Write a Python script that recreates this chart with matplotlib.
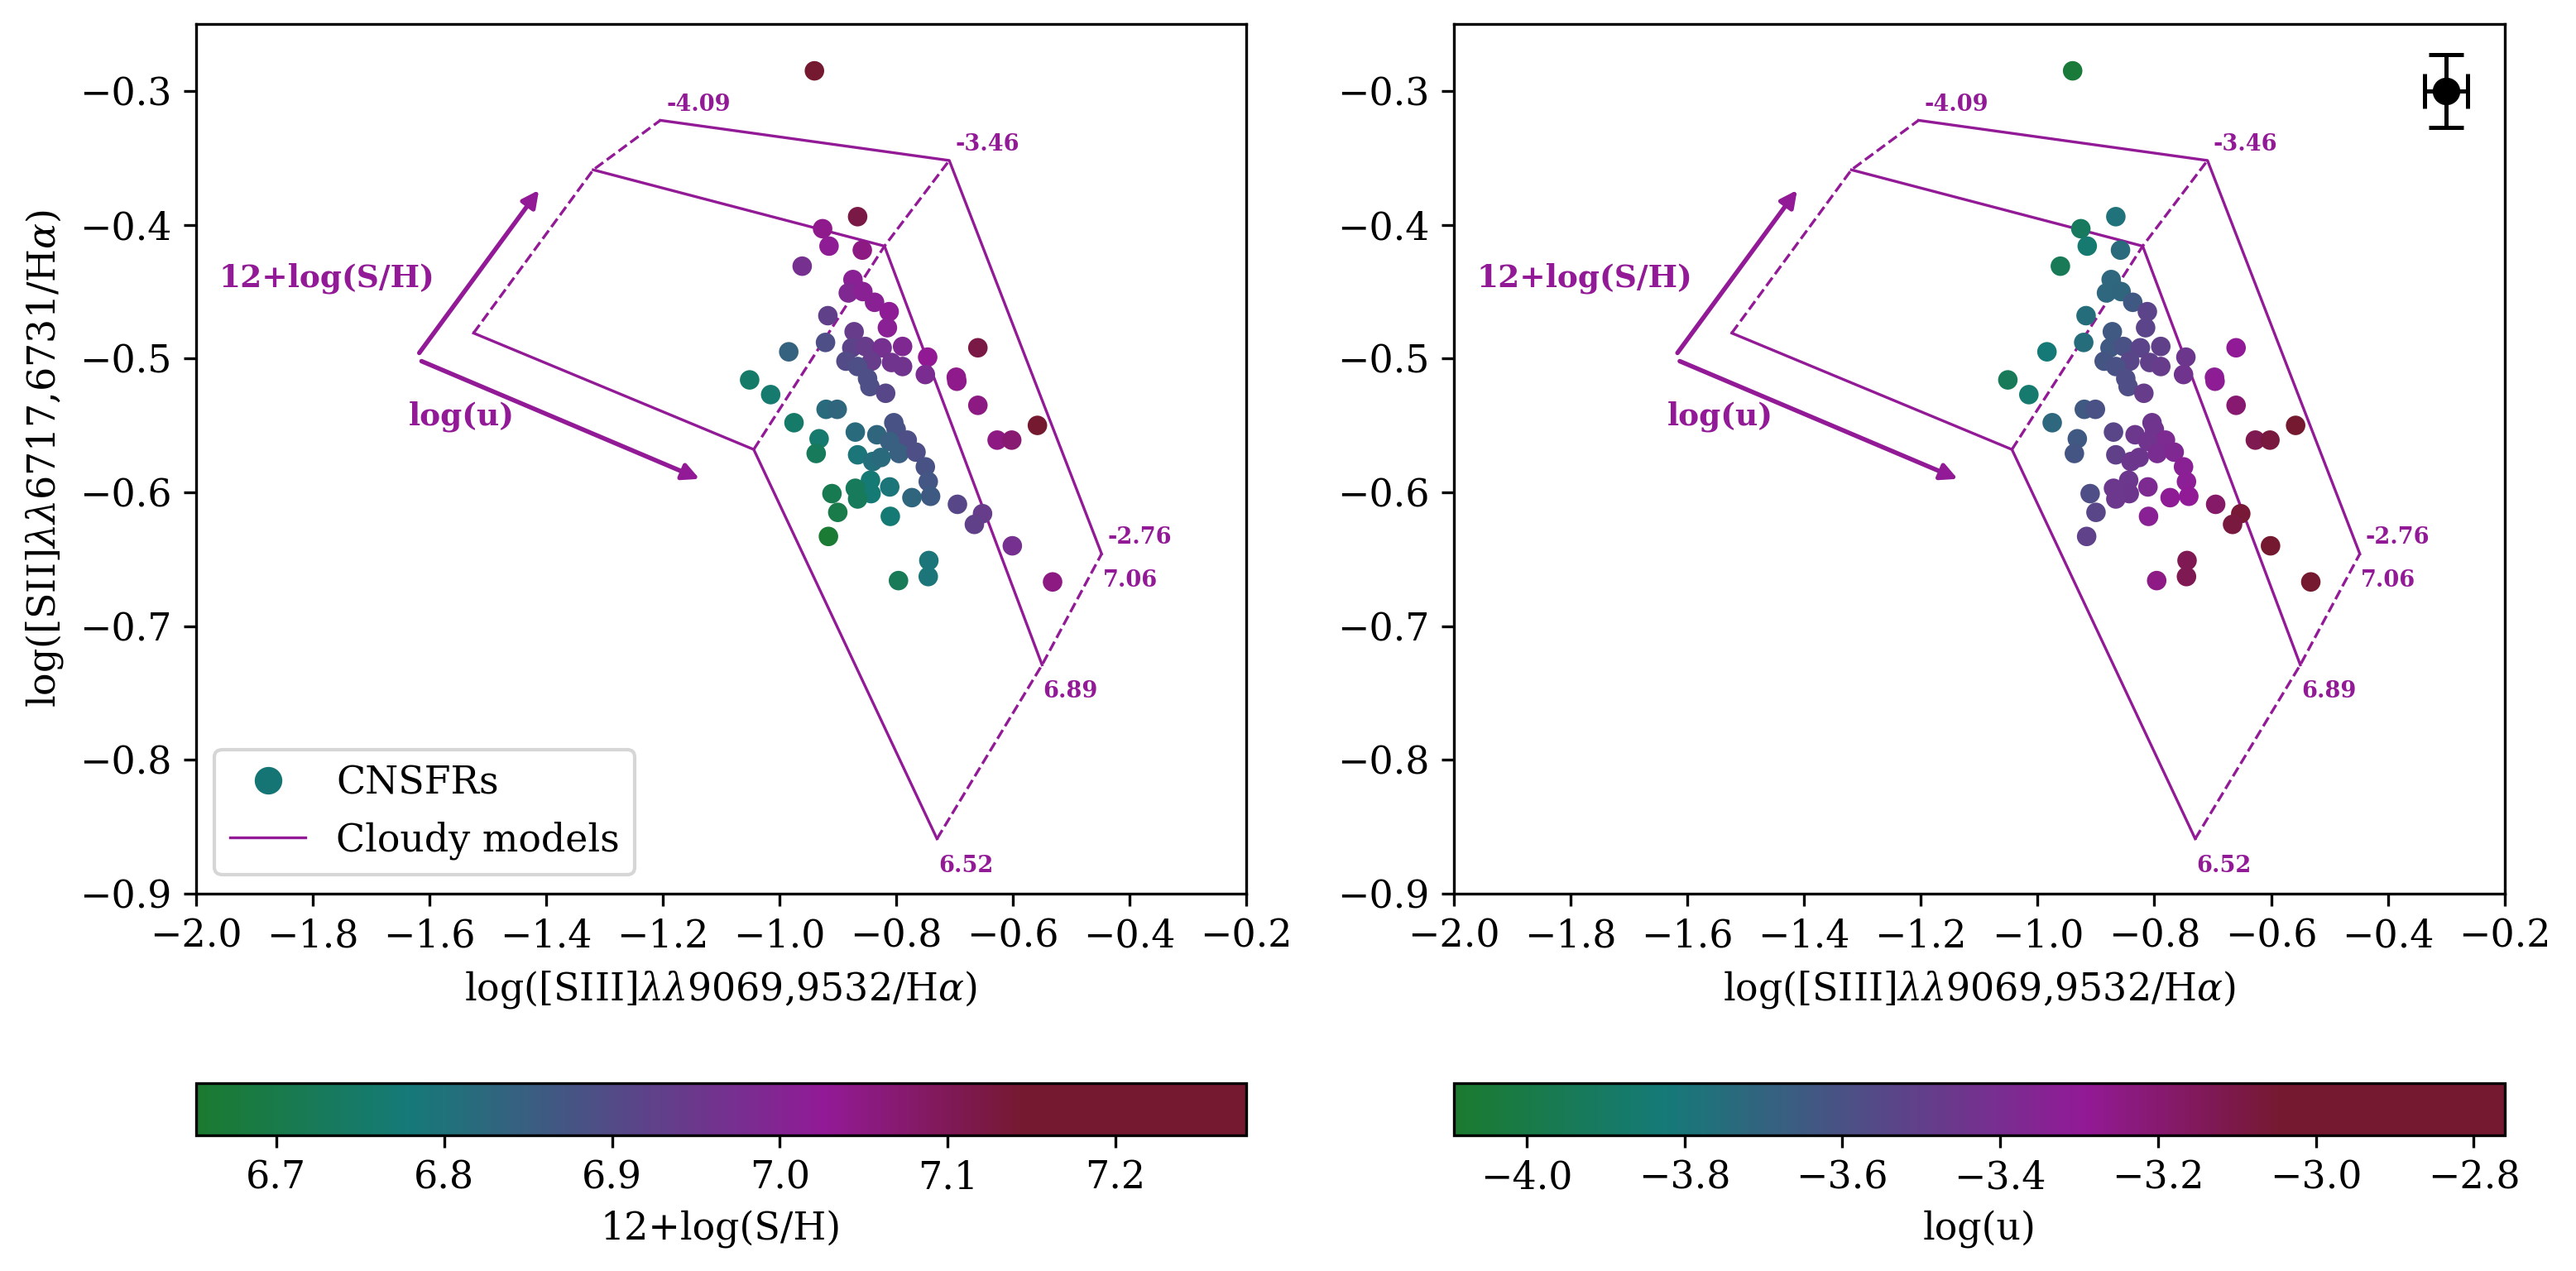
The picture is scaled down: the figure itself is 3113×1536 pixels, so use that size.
import matplotlib
matplotlib.use("Agg")
import matplotlib.pyplot as plt
from matplotlib.colors import LinearSegmentedColormap
from matplotlib.lines import Line2D

plt.rcParams['font.family'] = 'serif'
plt.rcParams['font.serif'] = ['DejaVu Serif']
plt.rcParams['mathtext.fontset'] = 'dejavuserif'

# CNSFR data
x_s3 = [-0.940, -0.866, -0.926, -0.915, -0.858, -0.961, -0.874, -0.882, -0.857, -0.837,
        -0.812, -0.815, -0.917, -0.872, -0.921, -0.984, -0.876, -0.853, -0.824, -0.789,
        -0.746, -0.660, -0.842, -0.886, -0.866, -0.808, -0.789, -0.750, -0.849, -0.845,
        -0.818, -0.697, -0.696, -0.660, -1.051, -1.015, -0.920, -0.901, -0.975, -0.932,
        -0.937, -0.870, -0.833, -0.804, -0.800, -0.781, -0.811, -0.795, -0.766, -0.866,
        -0.840, -0.826, -0.750, -0.745, -0.741, -0.773, -0.811, -0.844, -0.843, -0.870,
        -0.866, -0.910, -0.900, -0.916, -0.810, -0.695, -0.652, -0.666, -0.601, -0.532,
        -0.558, -0.627, -0.602, -0.744, -0.745, -0.796]
y_s2 = [-0.285, -0.394, -0.403, -0.416, -0.419, -0.431, -0.441, -0.451, -0.450, -0.458,
        -0.465, -0.477, -0.468, -0.480, -0.488, -0.495, -0.492, -0.491, -0.492, -0.491,
        -0.499, -0.492, -0.502, -0.502, -0.506, -0.503, -0.506, -0.512, -0.515, -0.521,
        -0.526, -0.514, -0.517, -0.535, -0.516, -0.527, -0.538, -0.538, -0.548, -0.560,
        -0.571, -0.555, -0.557, -0.548, -0.553, -0.561, -0.562, -0.571, -0.570, -0.572,
        -0.577, -0.574, -0.581, -0.592, -0.603, -0.604, -0.596, -0.591, -0.601, -0.597,
        -0.605, -0.601, -0.615, -0.633, -0.618, -0.609, -0.616, -0.624, -0.640, -0.667,
        -0.550, -0.561, -0.561, -0.651, -0.663, -0.666]
sh = [7.26, 7.12, 7.04, 7.02, 7.05, 6.97, 7.01, 6.99, 7.01, 7.01,
      7.02, 7.01, 6.93, 6.94, 6.89, 6.84, 6.92, 6.94, 6.97, 6.99,
      7.03, 7.12, 6.94, 6.90, 6.89, 6.96, 6.96, 6.98, 6.89, 6.89,
      6.91, 7.04, 7.04, 7.05, 6.75, 6.76, 6.82, 6.83, 6.75, 6.76,
      6.73, 6.82, 6.83, 6.88, 6.88, 6.89, 6.85, 6.85, 6.89, 6.79,
      6.81, 6.82, 6.88, 6.87, 6.86, 6.83, 6.79, 6.77, 6.77, 6.73,
      6.73, 6.71, 6.70, 6.66, 6.77, 6.91, 6.94, 6.93, 6.97, 7.05,
      7.18, 7.05, 7.07, 6.79, 6.79, 6.72]
logu = [-4.05, -3.78, -3.92, -3.85, -3.74, -3.95, -3.72, -3.72, -3.71, -3.64,
        -3.53, -3.53, -3.75, -3.64, -3.75, -3.83, -3.64, -3.60, -3.53, -3.50,
        -3.45, -3.30, -3.54, -3.62, -3.60, -3.50, -3.48, -3.44, -3.58, -3.58,
        -3.48, -3.32, -3.31, -3.20, -3.94, -3.86, -3.64, -3.60, -3.72, -3.64,
        -3.62, -3.54, -3.46, -3.45, -3.44, -3.38, -3.44, -3.40, -3.37, -3.50,
        -3.46, -3.45, -3.33, -3.32, -3.30, -3.31, -3.38, -3.46, -3.45, -3.46,
        -3.46, -3.58, -3.54, -3.51, -3.33, -3.18, -3.06, -3.08, -2.95, -2.85,
        -2.90, -3.12, -3.08, -3.13, -3.13, -3.25]

# Cloudy model grid: rows = 12+log(S/H), columns = log(u)
grid_sh = ['6.52', '6.89', '7.06']
grid_u = ['-4.09', '-3.46', '-2.76']
grid_x = [[-1.524, -1.044, -0.730],
          [-1.319, -0.820, -0.550],
          [-1.204, -0.709, -0.448]]
grid_y = [[-0.481, -0.568, -0.859],
          [-0.359, -0.416, -0.729],
          [-0.322, -0.352, -0.646]]

purple = '#921a96'
cmap = LinearSegmentedColormap.from_list(
    'gpm', [(0.0, '#1b7a2f'), (0.2, '#157a78'), (0.6, '#921a96'),
            (0.79, '#751930'), (1.0, '#751930')])

W, H = 3113, 1536
fig = plt.figure(figsize=(W / 300, H / 300), dpi=300)
ax1 = fig.add_axes([236.5 / W, 456 / H, 1269.7 / W, 1051 / H])
ax2 = fig.add_axes([1757 / W, 456 / H, 1269.7 / W, 1051 / H])
cax1 = fig.add_axes([236.5 / W, 164 / H, 1269.7 / W, 63 / H])
cax2 = fig.add_axes([1757 / W, 164 / H, 1269.7 / W, 63 / H])


def draw_models(ax):
    for i in range(3):
        ax.plot(grid_x[i], grid_y[i], color=purple, lw=0.8)
    for j in range(3):
        ax.plot([grid_x[i][j] for i in range(3)], [grid_y[i][j] for i in range(3)],
                color=purple, lw=0.8, ls='--')
    for j in range(3):
        ax.text(grid_x[2][j] + 0.01, grid_y[2][j] + 0.012, grid_u[j], color=purple,
                fontsize=6.5, fontweight='bold', ha='left', va='center')
    for i in range(3):
        ax.text(grid_x[i][2] + 0.002, grid_y[i][2] - 0.02, grid_sh[i], color=purple,
                fontsize=6.5, fontweight='bold', ha='left', va='center')
    arr = dict(arrowstyle='-|>', color=purple, lw=1.3, mutation_scale=10)
    ax.annotate('', xy=(-1.405, -0.370), xytext=(-1.624, -0.500), arrowprops=arr)
    ax.annotate('', xy=(-1.126, -0.592), xytext=(-1.624, -0.500), arrowprops=arr)
    ax.text(-1.961, -0.440, '12+log(S/H)', color=purple, fontsize=9,
            fontweight='bold', va='center')
    ax.text(-1.635, -0.543, 'log(u)', color=purple, fontsize=9,
            fontweight='bold', va='center')
    ax.set_xlim(-2.0, -0.2)
    ax.set_ylim(-0.9, -0.25)
    ax.set_xticks([-2.0, -1.8, -1.6, -1.4, -1.2, -1.0, -0.8, -0.6, -0.4, -0.2])
    ax.set_yticks([-0.9, -0.8, -0.7, -0.6, -0.5, -0.4, -0.3])
    ax.tick_params(labelsize=11)
    ax.set_xlabel(r'log([SIII]$\lambda\lambda$9069,9532/H$\alpha$)', fontsize=11)


draw_models(ax1)
sc1 = ax1.scatter(x_s3, y_s2, c=sh, cmap=cmap, vmin=6.652, vmax=7.278, s=32,
                  linewidths=0, zorder=3)
ax1.set_ylabel(r'log([SII]$\lambda\lambda$6717,6731/H$\alpha$)', fontsize=11)
handles = [Line2D([], [], marker='o', ls='', color='#157575', ms=7),
           Line2D([], [], color=purple, lw=0.8)]
ax1.legend(handles, ['CNSFRs', 'Cloudy models'], loc='lower left', fontsize=11)

draw_models(ax2)
sc2 = ax2.scatter(x_s3, y_s2, c=logu, cmap=cmap, vmin=-4.092, vmax=-2.761, s=32,
                  linewidths=0, zorder=3)
ax2.errorbar(-0.3, -0.3, xerr=0.037, yerr=0.027, fmt='o', color='k', ms=7,
             capsize=5, elinewidth=1.2, capthick=1.2)

cb1 = fig.colorbar(sc1, cax=cax1, orientation='horizontal')
cb1.set_label('12+log(S/H)', fontsize=11)
cb1.set_ticks([6.7, 6.8, 6.9, 7.0, 7.1, 7.2])
cb1.ax.tick_params(labelsize=11)
cb2 = fig.colorbar(sc2, cax=cax2, orientation='horizontal')
cb2.set_label('log(u)', fontsize=11)
cb2.set_ticks([-4.0, -3.8, -3.6, -3.4, -3.2, -3.0, -2.8])
cb2.ax.tick_params(labelsize=11)

fig.savefig('out.png', dpi=300)
